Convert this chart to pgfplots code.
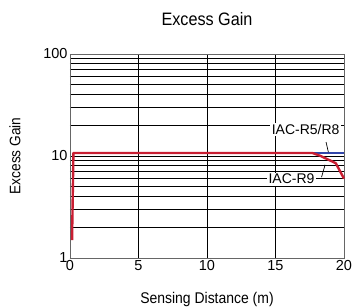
\documentclass[border=0pt]{standalone}
\usepackage{pgfplots}
\pgfplotsset{compat=1.18}
\usepackage{fontspec}
\setmainfont{Liberation Sans}
\definecolor{cred}{RGB}{200,30,50}
\definecolor{cblue}{RGB}{50,70,170}
\begin{document}
\begin{tikzpicture}
\begin{axis}[
 scale only axis, width=274bp, height=204bp,
 ymode=log, xmin=0, xmax=20, ymin=1, ymax=100,
 xtick={0,5,10,15,20}, ytick={1,10,100},
 log ticks with fixed point,
 xmajorgrids, ymajorgrids, yminorgrids,
 major grid style={black, line width=0.85pt},
 minor grid style={black, line width=0.85pt},
 major tick length=0pt, minor tick length=0pt,
 axis line style={black!60, line width=0.8pt},
 tick label style={font=\fontsize{14.5bp}{16bp}\selectfont},
 xticklabel style={yshift=1bp},
 yticklabel style={xshift=1bp},
 /pgf/number format/assume math mode=true,
 clip=false,
]
\addplot[cblue, line width=1.6pt] coordinates {(17.7,10.7) (20,10.7)};
\addplot[cred, line width=2.4pt, line join=round] coordinates {
 (0.15,1.5) (0.25,10.7) (17.7,10.7) (18.3,10.0) (19.4,8.5) (20,6.0)};
\draw[black, line width=0.7pt] (axis cs:18.69,13.7) -- (axis cs:18.86,10.9);
\draw[black, line width=0.7pt] (axis cs:18.36,6.2) -- (axis cs:18.62,8.2);
\node[fill=white, inner sep=1.5bp, font=\fontsize{14bp}{16bp}\selectfont] at (axis cs:17.2,18.3) {IAC-R5/R8};
\node[fill=white, inner sep=1.5bp, font=\fontsize{14bp}{16bp}\selectfont] at (axis cs:16.17,5.93) {IAC-R9};
\node[font=\fontsize{18bp}{20bp}\selectfont] at ([yshift=35bp]rel axis cs:0.5,1) {\scalebox{0.9}[1]{Excess Gain}};
\node[font=\fontsize{15.5bp}{18bp}\selectfont] at ([yshift=-41bp]rel axis cs:0.5,0) {\scalebox{0.9}[1]{Sensing Distance (m)}};
\node[font=\fontsize{15.2bp}{18bp}\selectfont, rotate=90] at ([xshift=-55bp]rel axis cs:0,0.5) {\scalebox{0.9}[1]{Excess Gain}};
\end{axis}
\pgfresetboundingbox
\path ([shift={(-70bp,-50bp)}]current axis.south west) rectangle ([shift={(13bp,54bp)}]current axis.north east);
\end{tikzpicture}
\end{document}
